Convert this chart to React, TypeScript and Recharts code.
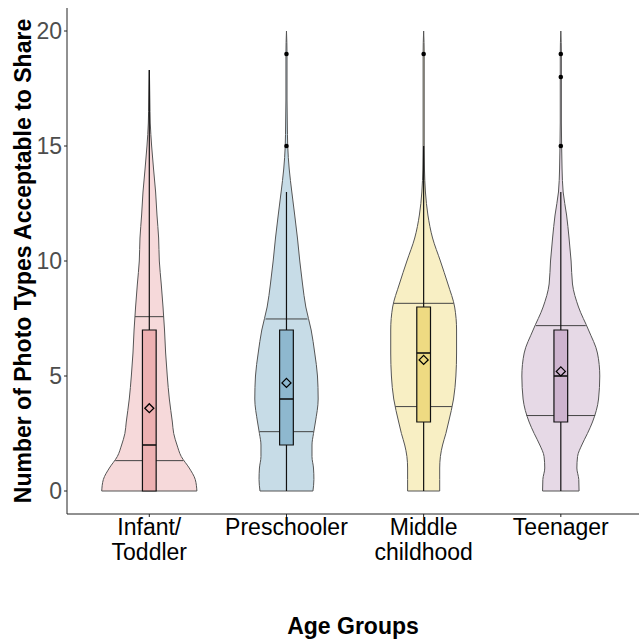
import React from "react";
import {
  Area,
  ComposedChart,
  Label,
  ReferenceArea,
  ReferenceLine,
  Scatter,
  XAxis,
  YAxis,
} from "recharts";

const categories = ["Infant/\nToddler", "Preschooler", "Middle\nchildhood", "Teenager"];
const violinFill = ["#F6D9DA", "#C7DCE7", "#F8EFC4", "#E6D9E6"];
const boxFill = ["#EDB1B2", "#8EB8CF", "#EEDA82", "#CEB4CF"];

// density levels (y) and violin half widths (x units) per group
const levels = [0, 0.5, 1, 1.5, 2, 2.5, 3, 4, 5, 6, 7, 8, 9, 10, 11, 12, 13, 14, 15, 16, 17, 18, 18.3, 19, 20];
const infantWidth = [0.347, 0.335, 0.291, 0.233, 0.202, 0.178, 0.168, 0.146, 0.131, 0.119, 0.111, 0.1, 0.087, 0.073, 0.068, 0.056, 0.046, 0.031, 0.017, 0.007, 0.004, 0.0015, 0, null, null];
const preschoolWidth = [0.193, 0.2, 0.197, 0.186, 0.186, 0.197, 0.211, 0.231, 0.226, 0.206, 0.18, 0.141, 0.117, 0.097, 0.08, 0.06, 0.039, 0.02, 0.009, 0.006, 0.004, 0.004, null, 0.004, 0];
const middleWidth = [0.117, 0.117, 0.117, 0.122, 0.138, 0.162, 0.182, 0.218, 0.235, 0.24, 0.24, 0.226, 0.177, 0.122, 0.065, 0.031, 0.013, 0.006, 0.004, 0.004, 0.004, 0.004, null, 0.004, 0];
const teenWidth = [0.133, 0.131, 0.117, 0.122, 0.153, 0.194, 0.231, 0.275, 0.284, 0.267, 0.202, 0.129, 0.085, 0.075, 0.06, 0.042, 0.017, 0.009, 0.006, 0.004, 0.004, 0.004, null, 0.004, 0];
const violinWidths = [infantWidth, preschoolWidth, middleWidth, teenWidth];

// violin quantile lines
const quantLow = [1.32, 2.58, 3.67, 3.28];
const quantLowWidth = [0.248, 0.197, 0.206, 0.25];
const quantHigh = [7.58, 7.48, 8.16, 7.19];
const quantHighWidth = [0.104, 0.153, 0.218, 0.182];

// box plot stats
const q1 = [0, 2, 3, 3];
const median = [2, 4, 6, 5];
const q3 = [7, 7, 8, 7];
const whiskerLow = [0, 0, 0, 0];
const whiskerHigh = [18.3, 13, 15, 13];
const means = [3.6, 4.7, 5.7, 5.2];
const outliers = [[], [15, 19], [19], [15, 18, 19]];

const yTicks = [0, 5, 10, 15, 20];

const BOX_HALF = 0.05;
const FONT = "'Liberation Sans', Arial, sans-serif";

const rows = levels.map((y, i) => {
  const row: Record<string, any> = { y };
  violinWidths.forEach((w, g) => {
    const c = g + 1;
    row[`v${g}`] = w[i] == null ? [null, null] : [c - (w[i] as number), c + (w[i] as number)];
  });
  return row;
});

const meanPoints = means.map((m, g) => ({ x: g + 1, y: m }));
const outlierPoints = outliers.flatMap((list, g) => list.map((v) => ({ x: g + 1, y: v })));

const CategoryTick = (props: any) => {
  const { x, y, payload } = props;
  const label = categories[Math.round(payload.value) - 1] || "";
  return (
    <text x={x} y={y} textAnchor="middle" fill="#000" fontSize={23} fontFamily={FONT}>
      {label.split("\n").map((line, i) => (
        <tspan key={i} x={x} dy={i === 0 ? 16 : 25}>
          {line}
        </tspan>
      ))}
    </text>
  );
};

const Diamond = (props: any) => {
  const { cx, cy } = props;
  const s = 4.5;
  return (
    <path
      d={`M${cx},${cy - s}L${cx + s},${cy}L${cx},${cy + s}L${cx - s},${cy}Z`}
      fill="none"
      stroke="#000"
      strokeWidth={1.3}
    />
  );
};

const Dot = (props: any) => <circle cx={props.cx} cy={props.cy} r={2.3} fill="#000" />;

export default function App() {
  return (
    <div style={{ position: "absolute", left: 0, top: 0, background: "#fff" }}>
      <ComposedChart
        width={639}
        height={640}
        data={rows}
        layout="vertical"
        margin={{ top: 8, right: 0, bottom: 0, left: 0 }}
      >
        <XAxis
          type="number"
          dataKey="x"
          domain={[0.4, 4.57]}
          allowDataOverflow
          ticks={[1, 2, 3, 4]}
          height={126}
          tickSize={3}
          stroke="#222"
          tick={<CategoryTick />}
          interval={0}
        >
          <Label
            value="Age Groups"
            position="insideBottom"
            offset={6}
            style={{ fontSize: 23, fontWeight: "bold", fill: "#000", fontFamily: FONT }}
          />
        </XAxis>
        <YAxis
          type="number"
          dataKey="y"
          domain={[-1, 21]}
          allowDataOverflow
          reversed
          ticks={yTicks}
          width={67}
          tickSize={3}
          stroke="#222"
          tick={{ fontSize: 23, fill: "#4D4D4D", fontFamily: FONT }}
          interval={0}
        >
          <Label
            value="Number of Photo Types Acceptable to Share"
            angle={-90}
            position="insideLeft"
            offset={23}
            style={{ textAnchor: "middle", fontSize: 23, fontWeight: "bold", fill: "#000", fontFamily: FONT }}
          />
        </YAxis>

        {violinFill.map((fill, g) => (
          <Area
            key={`v${g}`}
            dataKey={`v${g}`}
            type="monotone"
            stroke="#555"
            strokeWidth={1}
            fill={fill}
            fillOpacity={1}
            connectNulls
            dot={false}
            activeDot={false}
            isAnimationActive={false}
            zIndex={100}
          />
        ))}

        {violinWidths.map((w, g) => (
          <ReferenceLine
            key={`vb${g}`}
            segment={[
              { x: g + 1 - (w[0] as number), y: levels[0] },
              { x: g + 1 + (w[0] as number), y: levels[0] },
            ]}
            stroke="#555"
            strokeWidth={1}
            zIndex={150}
          />
        ))}
        {quantLow.map((q, g) => (
          <ReferenceLine
            key={`ql${g}`}
            segment={[
              { x: g + 1 - quantLowWidth[g], y: q },
              { x: g + 1 + quantLowWidth[g], y: q },
            ]}
            stroke="#444"
            strokeWidth={1}
            zIndex={150}
          />
        ))}
        {quantHigh.map((q, g) => (
          <ReferenceLine
            key={`qh${g}`}
            segment={[
              { x: g + 1 - quantHighWidth[g], y: q },
              { x: g + 1 + quantHighWidth[g], y: q },
            ]}
            stroke="#444"
            strokeWidth={1}
            zIndex={150}
          />
        ))}
        {whiskerHigh.map((hi, g) => (
          <ReferenceLine
            key={`w${g}`}
            segment={[
              { x: g + 1, y: whiskerLow[g] },
              { x: g + 1, y: hi },
            ]}
            stroke="#111"
            strokeWidth={1.2}
            zIndex={160}
          />
        ))}
        {q1.map((lo, g) => (
          <ReferenceArea
            key={`b${g}`}
            x1={g + 1 - BOX_HALF}
            x2={g + 1 + BOX_HALF}
            y1={lo}
            y2={q3[g]}
            fill={boxFill[g]}
            fillOpacity={1}
            stroke="#111"
            strokeWidth={1.2}
            zIndex={170}
          />
        ))}
        {median.map((m, g) => (
          <ReferenceLine
            key={`m${g}`}
            segment={[
              { x: g + 1 - BOX_HALF, y: m },
              { x: g + 1 + BOX_HALF, y: m },
            ]}
            stroke="#111"
            strokeWidth={1.6}
            zIndex={180}
          />
        ))}
        <Scatter data={meanPoints} shape={<Diamond />} isAnimationActive={false} zIndex={600} />
        <Scatter data={outlierPoints} shape={<Dot />} isAnimationActive={false} zIndex={600} />
      </ComposedChart>
    </div>
  );
}
